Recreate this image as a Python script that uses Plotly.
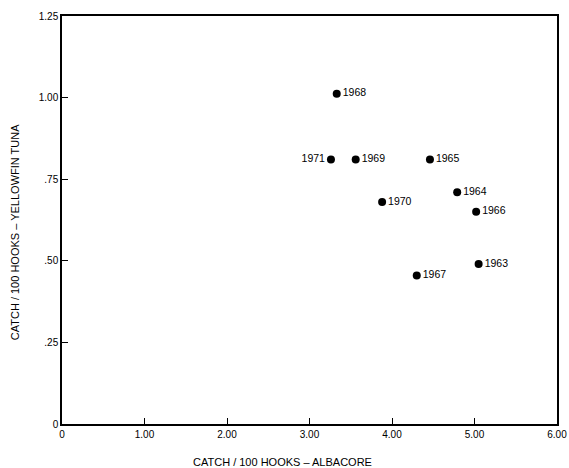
import plotly.graph_objects as go

years = ["1963", "1964", "1965", "1966", "1967", "1968", "1969", "1970", "1971"]
albacore = [5.05, 4.79, 4.46, 5.02, 4.30, 3.33, 3.56, 3.88, 3.26]
yellowfin = [0.49, 0.71, 0.81, 0.65, 0.455, 1.012, 0.81, 0.68, 0.81]

x_ticks = [0, 1, 2, 3, 4, 5, 6]
x_tick_labels = ["0", "1.00", "2.00", "3.00", "4.00", "5.00", "6.00"]
y_ticks = [0, 0.25, 0.5, 0.75, 1.0, 1.25]
y_tick_labels = ["0", ".25", ".50", ".75", "1.00", "1.25"]

positions = ["middle left" if y == "1971" else "middle right" for y in years]

FONT = "Liberation Sans"

fig = go.Figure()
fig.add_trace(go.Scatter(
    x=albacore, y=yellowfin, mode="markers+text",
    text=years, textposition=positions,
    textfont=dict(family=FONT, size=10.5, color="black"),
    marker=dict(color="black", size=8),
    cliponaxis=False, showlegend=False,
))

fig.update_layout(
    template="none",
    width=569, height=468,
    margin=dict(l=62, r=12, t=16, b=44, autoexpand=False),
    paper_bgcolor="white", plot_bgcolor="white",
    font=dict(family=FONT, color="black"),
    xaxis=dict(
        range=[0, 6], tickvals=x_ticks, ticktext=x_tick_labels,
        ticks="inside", ticklen=6, tickcolor="black", automargin=False,
        showline=True, linecolor="black", linewidth=1.5, mirror=True,
        showgrid=False, zeroline=False,
        tickfont=dict(family=FONT, size=10, color="black"),
    ),
    yaxis=dict(
        range=[0, 1.25], tickvals=y_ticks, ticktext=y_tick_labels,
        ticks="inside", ticklen=6, tickcolor="black", automargin=False,
        showline=True, linecolor="black", linewidth=1.5, mirror=True,
        showgrid=False, zeroline=False,
        tickfont=dict(family=FONT, size=10, color="black"),
    ),
    annotations=[
        dict(text="CATCH / 100 HOOKS – ALBACORE", xref="paper", yref="paper",
             x=(282 - 62) / 495, y=-0.093, xanchor="center", yanchor="middle",
             showarrow=False, font=dict(family=FONT, size=11, color="black")),
        dict(text="CATCH / 100 HOOKS – YELLOWFIN TUNA", xref="paper", yref="paper",
             x=-47 / 495, y=0.47, xanchor="center", yanchor="middle", textangle=-90,
             showarrow=False, font=dict(family=FONT, size=11, color="black")),
    ],
)

fig.write_html("out.html", config={"displayModeBar": False},
               post_script="document.body.style.margin='0';")
